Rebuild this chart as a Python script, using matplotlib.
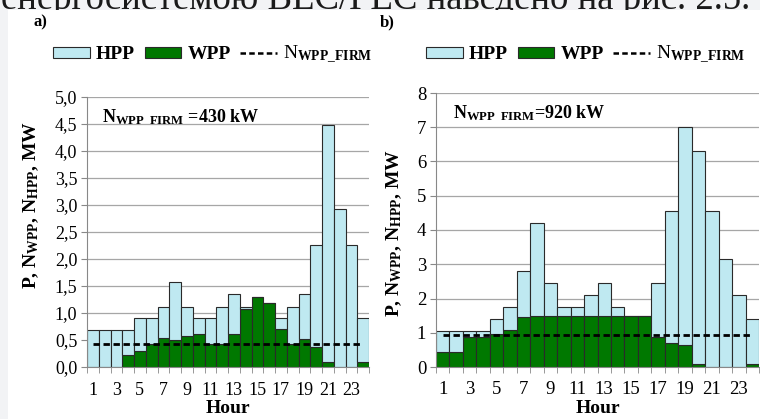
import matplotlib
matplotlib.use("Agg")
import matplotlib.pyplot as plt
import numpy as np
from matplotlib.patches import Patch, Rectangle
from matplotlib.lines import Line2D

# fonts: Times-like serif everywhere
plt.rcParams['font.family'] = ['Liberation Serif', 'DejaVu Serif']
plt.rcParams['mathtext.fontset'] = 'custom'
plt.rcParams['mathtext.rm'] = 'Liberation Serif'
plt.rcParams['mathtext.bf'] = 'Liberation Serif:bold'
plt.rcParams['mathtext.it'] = 'Liberation Serif:italic'

hours = list(range(1, 25))

# a) N_WPP_FIRM = 430 kW
wpp_a = [0, 0, 0, 0.22, 0.29, 0.43, 0.54, 0.50, 0.57, 0.62, 0.43, 0.43,
         0.62, 1.07, 1.29, 1.18, 0.70, 0.43, 0.52, 0.37, 0.10, 0, 0, 0.09]
hpp_a = [0.68, 0.68, 0.68, 0.46, 0.61, 0.47, 0.58, 1.07, 0.55, 0.28, 0.47, 0.69,
         0.73, 0.05, 0, 0, 0.20, 0.69, 0.83, 1.88, 4.38, 2.92, 2.25, 0.81]
firm_a = 0.43

# b) N_WPP_FIRM = 920 kW
wpp_b = [0.43, 0.43, 0.87, 0.87, 0.97, 1.08, 1.45, 1.50, 1.50, 1.50, 1.50, 1.50,
         1.50, 1.50, 1.50, 1.50, 0.87, 0.70, 0.65, 0.10, 0, 0, 0, 0.10]
hpp_b = [0.62, 0.62, 0.18, 0.18, 0.43, 0.67, 1.35, 2.70, 0.95, 0.25, 0.25, 0.60,
         0.95, 0.25, 0, 0, 1.58, 3.85, 6.35, 6.20, 4.55, 3.15, 2.10, 1.30]
firm_b = 0.92

HPP_COL = '#bfe9f1'
WPP_COL = '#007800'
EDGE = '#2a2a2a'
GRID = '#a6a6a6'

W, H = 760, 419
fig = plt.figure(figsize=(W / 100, H / 100), dpi=100, facecolor='#f2f3f5')
# clipped line of body text above the figure (its lower part is hidden by the page)
fig.text(750 / W, 1 - 9 / H, "енергосистемою ВЕС/ГЕС наведено на рис. 2.5.",
         ha='right', va='baseline', fontsize=26.5, color='#1a1a1a', zorder=1)
# white page area, drawn over the body text
fig.patches.append(Rectangle((8 / W, 0), 1, 1 - 10.5 / H, transform=fig.transFigure,
                             facecolor='white', edgecolor='none', zorder=2))


def draw(ax, wpp, hpp, firm, ymax, ystep, fmt, fs, note, lab_xy, xlab_y, xpad):
    ax.set_zorder(4)
    ax.set_axisbelow(True)
    ax.bar(hours, wpp, width=1.0, color=WPP_COL, edgecolor=EDGE, linewidth=0.8)
    ax.bar(hours, hpp, width=1.0, bottom=wpp, color=HPP_COL, edgecolor=EDGE, linewidth=0.8)
    ax.plot(hours, [firm] * len(hours), color='black', lw=2.0, linestyle=(0, (2.3, 1.3)))
    ax.set_xlim(0.5, 24.5)
    ax.set_ylim(0, ymax)
    yt = np.arange(0, ymax + ystep / 2, ystep)
    ax.set_yticks(yt)
    ax.set_yticklabels([fmt(v) for v in yt], fontsize=fs)
    ax.set_xticks(hours[::2])
    ax.set_xticklabels([str(h) for h in hours[::2]], fontsize=fs)
    ax.set_xticks(np.arange(0.5, 25, 1), minor=True)
    ax.tick_params(axis='x', which='major', length=0, pad=xpad)
    ax.tick_params(axis='x', which='minor', length=4, color='#888888')
    ax.tick_params(axis='y', length=4, color='#888888', pad=3)
    ax.yaxis.grid(True, color=GRID, lw=0.9)
    for s in ['top', 'right']:
        ax.spines[s].set_visible(False)
    for s in ['left', 'bottom']:
        ax.spines[s].set_color('#888888')
    ax.set_ylabel(r"P, N$_\mathbf{WPP}$, N$_\mathbf{HPP}$, MW", fontweight='bold', fontsize=14)
    ax.yaxis.set_label_coords(*lab_xy)
    ax.set_xlabel("Hour", fontweight='bold', fontsize=14)
    ax.xaxis.set_label_coords(0.5, xlab_y)
    ax.text(0.053, 0.925, note, transform=ax.transAxes, fontsize=13,
            fontweight='bold', va='center', ha='left')


ax1 = fig.add_axes([87 / W, 1 - 367 / H, 282 / W, 270 / H])
draw(ax1, wpp_a, hpp_a, firm_a, 5.0, 0.5, lambda v: f"{v:.1f}".replace('.', ','), 13,
     r"$\mathbf{N_{WPP\ \ FIRM}}$ =430 kW", (-0.163, 0.6), -0.122, 11)

ax2 = fig.add_axes([436 / W, 1 - 367 / H, 323 / W, 274 / H])
draw(ax2, wpp_b, hpp_b, firm_b, 8, 1, lambda v: f"{v:.0f}", 13.5,
     r"$\mathbf{N_{WPP\ \ FIRM}}$=920 kW", (-0.099, 0.49), -0.12, 10)

# legends above each panel
handles = [Patch(facecolor=HPP_COL, edgecolor=EDGE, linewidth=0.8),
           Patch(facecolor=WPP_COL, edgecolor=EDGE, linewidth=0.8),
           Line2D([], [], color='black', lw=1.8, linestyle=(0, (2.2, 1.3)))]
labels = ["HPP", "WPP", r"N$_{\mathbf{WPP\_FIRM}}$"]
for x0 in (53, 426):
    leg = fig.legend(handles, labels, loc='center left', bbox_to_anchor=(x0 / W, 1 - 55 / H),
                     ncol=3, frameon=False, fontsize=14, handlelength=1.9, handleheight=0.45,
                     handletextpad=0.3, columnspacing=0.5, borderpad=0, borderaxespad=0)
    leg.set_zorder(5)
    for t in leg.get_texts()[:2]:
        t.set_fontweight('bold')

fig.text(33 / W, 1 - 22 / H, "a)", fontweight='bold', fontsize=12, va='center', zorder=5)
fig.text(380 / W, 1 - 22 / H, "b)", fontweight='bold', fontsize=12, va='center', zorder=5)

fig.savefig("out.png", dpi=100, facecolor=fig.get_facecolor())
